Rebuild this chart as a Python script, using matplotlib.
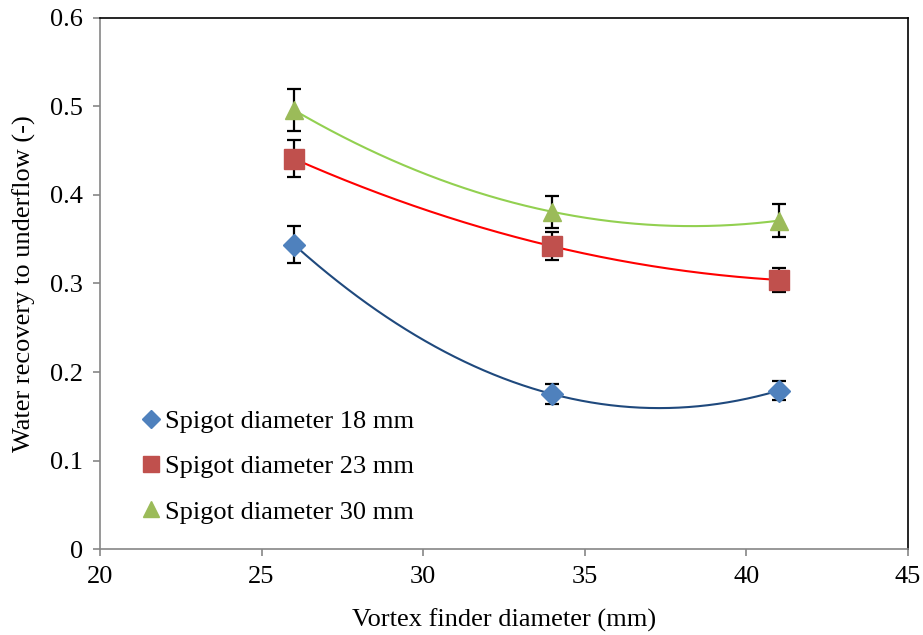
import numpy as np
import matplotlib
matplotlib.use("Agg")
import matplotlib.pyplot as plt
from matplotlib.lines import Line2D

plt.rcParams["font.family"] = ["Liberation Serif", "DejaVu Serif"]

vortex = [26, 34, 41]
labels = ["Spigot diameter 18 mm", "Spigot diameter 23 mm", "Spigot diameter 30 mm"]
rec_18 = [0.344, 0.175, 0.179]
rec_23 = [0.441, 0.342, 0.304]
rec_30 = [0.496, 0.381, 0.371]
err_18 = [0.021, 0.011, 0.011]
err_23 = [0.021, 0.016, 0.014]
err_30 = [0.024, 0.018, 0.019]

marker_colors = ["#4F81BD", "#C0504D", "#9BBB59"]
line_colors = ["#1F497D", "#FF0000", "#92D050"]
markers = ["D", "s", "^"]
sizes = [11, 14, 13]

fig = plt.figure(figsize=(9.23, 6.35), dpi=100)
ax = fig.add_axes([0.1083, 0.1354, 0.8754, 0.8363])

x = np.array(vortex, dtype=float)
xs = np.linspace(x.min(), x.max(), 200)
series = [(rec_18, err_18), (rec_23, err_23), (rec_30, err_30)]
for i, (y, e) in enumerate(series):
    # second-order polynomial trendline
    coef = np.polyfit(x, y, 2)
    ax.plot(xs, np.polyval(coef, xs), color=line_colors[i], lw=1.5, zorder=2)
    ax.errorbar(x, y, yerr=e, fmt="none", ecolor="black", elinewidth=1.6,
                capsize=5, capthick=1.6, zorder=3)
    ax.plot(x, y, ls="none", marker=markers[i], ms=sizes[i],
            mfc=marker_colors[i], mec=marker_colors[i], zorder=4)

ax.set_xlim(20, 45)
ax.set_ylim(0, 0.6)
ax.set_xticks(range(20, 46, 5))
ax.set_yticks(np.arange(0, 0.61, 0.1))
ax.set_yticklabels(["0"] + [f"{v:.1f}" for v in np.arange(0.1, 0.61, 0.1)])

for side in ["top", "right"]:
    ax.spines[side].set_color("black")
    ax.spines[side].set_linewidth(1.2)
for side in ["left", "bottom"]:
    ax.spines[side].set_color("#868686")
    ax.spines[side].set_linewidth(1.2)
ax.tick_params(direction="out", length=5, width=1.2, color="#868686",
               labelsize=19, labelcolor="black", pad=7)

ax.set_xlabel("Vortex finder diameter (mm)", fontsize=19, labelpad=15)
ax.set_ylabel("Water recovery to underflow (-)", fontsize=19, labelpad=10)

handles = [Line2D([], [], ls="none", marker=markers[i], ms=sizes[i] - 2,
                  mfc=marker_colors[i], mec=marker_colors[i]) for i in range(3)]
ax.legend(handles, labels, loc="lower left", bbox_to_anchor=(0.03, 0.013),
          frameon=False, fontsize=19, handlelength=0.6, handletextpad=0.25,
          labelspacing=0.83, borderpad=0.2)

fig.savefig("out.png", dpi=100)
